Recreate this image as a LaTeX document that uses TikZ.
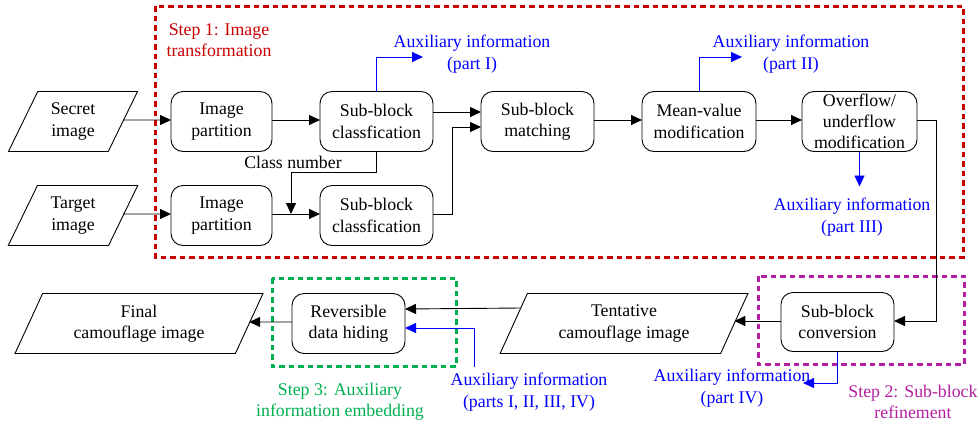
\documentclass[tikz,border=0pt]{standalone}
\usepackage{fontspec}
\setmainfont{Liberation Serif}
\usetikzlibrary{shapes.geometric,arrows.meta}
\definecolor{stepred}{RGB}{200,0,0}
\definecolor{stepmag}{RGB}{180,30,160}
\definecolor{stepgreen}{RGB}{0,176,80}
\definecolor{auxblue}{RGB}{0,0,255}
\begin{document}
\begin{tikzpicture}[x=1pt,y=-1pt,
  every node/.style={font=\fontsize{17.8}{21.3}\selectfont},
  proc/.style={draw, rounded corners=12pt, minimum height=60pt, align=center,
    inner sep=0pt, outer sep=0pt, line width=0.9pt},
  io/.style={draw, trapezium, trapezium left angle=63.43, trapezium right angle=116.57,
    trapezium stretches=true, minimum height=60pt, align=center,
    inner sep=0pt, outer sep=0pt, line width=0.9pt},
  arr/.style={-{Triangle[length=11pt,width=10pt]}, line width=0.9pt},
  aux/.style={arr, auxblue},
  auxtext/.style={text=auxblue, align=center, inner sep=0pt},
  stepbox/.style={line width=3pt, dash pattern=on 5.5pt off 4pt},
  steptext/.style={align=center, inner sep=0pt}]
\useasboundingbox (0,0) rectangle (980,424);

% step frames
\draw[stepbox, stepred] (155,6) rectangle (963,257);
\draw[stepbox, stepmag] (758,276) rectangle (964,364);
\draw[stepbox, stepgreen] (272,278) rectangle (456,366);

\node[steptext, text=stepred] (s1) at (219,40) {Step 1: Image\\transformation};
\node[steptext, text=stepmag] (s2) at (913,402) {Step 2: Sub-block\\refinement};
\node[steptext, text=stepgreen] (s3) at (340,402) {Step 3: Auxiliary\\information embedding};

% inputs and outputs
\node[io, minimum width=130pt] (secret) at (73,121.5) {Secret\\image};
\node[io, minimum width=130pt] (target) at (73,215.5) {Target\\image};
\node[io, minimum width=248pt] (tent) at (624,323.5) {Tentative\\camouflage image};
\node[io, minimum width=248pt] (final) at (139,323.5) {Final\\camouflage image};

% processing steps
\node[proc, minimum width=101pt] (part1) at (221.5,121.5) {Image\\partition};
\node[proc, minimum width=101pt] (part2) at (221.5,215.5) {Image\\partition};
\node[proc, minimum width=113pt] (cls1) at (376.5,121.5) {Sub-block\\classfication};
\node[proc, minimum width=113pt] (cls2) at (376.5,215.5) {Sub-block\\classfication};
\node[proc, minimum width=113pt] (match) at (537.5,121.5) {Sub-block\\matching};
\node[proc, minimum width=114pt] (mean) at (699,121.5) {Mean-value\\modification};
\node[proc, minimum width=115pt] (over) at (859.5,121.5) {Overflow/\\underflow\\modification};
\node[proc, minimum width=113pt, minimum height=59pt] (conv) at (837.5,322) {Sub-block\\conversion};
\node[proc, minimum width=113pt] (rdh) at (348.5,323.5) {Reversible\\data hiding};

% auxiliary information labels
\node[auxtext] (aux1) at (472,54) {Auxiliary information\\(part I)};
\node[auxtext] (aux2) at (791,54) {Auxiliary information\\(part II)};
\node[auxtext] (aux3) at (852,217) {Auxiliary information\\(part III)};
\node[auxtext] (aux4) at (732,388) {Auxiliary information\\(part IV)};
\node[auxtext] (auxall) at (529,392) {Auxiliary information\\(parts I, II, III, IV)};
\node[inner sep=0pt] (cnum) at (293,162) {Class number};

\coordinate (a1) at (423,57);
\coordinate (a2) at (742,57);
\coordinate (a4) at (803,383);
\coordinate (aall) at (474,367);
\coordinate (cn) at (291,214);

% main flow (arrows drawn slightly above node centres, which sit 1.5 lower)
\draw[arr] ([yshift=1.5pt]secret.east) -- ([yshift=1.5pt]part1.west);
\draw[arr] ([yshift=1.5pt]target.east) -- ([yshift=1.5pt]part2.west);
\draw[arr] ([yshift=1.5pt]part1.east) -- ([yshift=1.5pt]cls1.west);
\draw[arr] ([yshift=1.5pt]part2.east) -- ([yshift=1.5pt]cls2.west);
\draw[arr] ([yshift=9.5pt]cls1.east) -- ([yshift=9.5pt]match.west);
\draw[arr] ([yshift=1.5pt]cls2.east) -- ++(19,0) |- ([yshift=-5.5pt]match.west);
\draw[arr] (cls1.south) -- ++(0,21) -| (cn);
\draw[arr] ([yshift=1.5pt]match.east) -- ([yshift=1.5pt]mean.west);
\draw[arr] ([yshift=1.5pt]mean.east) -- ([yshift=1.5pt]over.west);
\draw[arr] ([yshift=1.5pt]over.east) -- ++(19,0) |- ([yshift=1pt]conv.east);
\draw[arr] ([yshift=1pt]conv.west) -- ([yshift=1pt]conv.west -| tent.east);
\draw[arr] ([xshift=7pt,yshift=15.5pt]tent.west) -- ([yshift=14.5pt]rdh.east);
\draw[arr] ([yshift=1.5pt]rdh.west) -- ([yshift=1.5pt]final.east);

% auxiliary information outputs
\draw[aux] (cls1.north) |- (a1);
\draw[aux] (mean.north) |- (a2);
\draw[aux] (over.south) -- ++(0,35);
\draw[aux] (conv.south) |- (a4);
\draw[aux] (aall) |- ([yshift=-4.5pt]rdh.east);
\end{tikzpicture}
\end{document}
